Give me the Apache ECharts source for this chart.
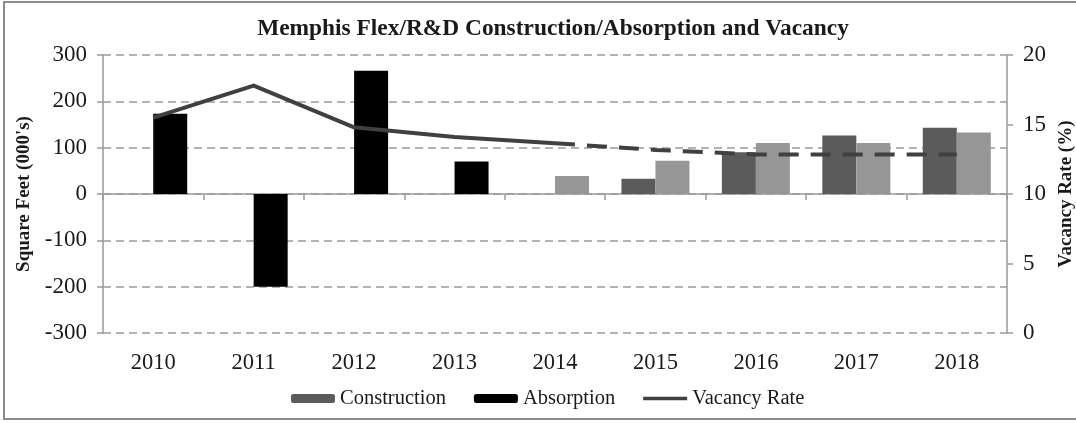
<!DOCTYPE html>
<html>
<head>
<meta charset="utf-8">
<script src="https://cdn.jsdelivr.net/npm/echarts@6/dist/echarts.min.js"></script>
<style>
    html, body { margin: 0; padding: 0; background: #fff; }
    #chart { width: 1076px; height: 423px; }
</style>
</head>
<body>
<div id="chart"></div>
<script>
// data
var years = ['2010', '2011', '2012', '2013', '2014', '2015', '2016', '2017', '2018']
var construction = [null, null, null, null, null, 33, 90, 126, 143]
var absorption = [173, -200, 266, 70, 39, 72, 110, 110, 133]
var vacancyActual = [15.5, 17.8, 14.8, 14.1, 13.65, null, null, null, null]
var vacancyForecast = [null, null, null, null, 13.65, 13.17, 12.85, 12.85, 12.85]
var firstForecast = 4 // absorption bars from 2014 on are drawn light grey

var serif = 'Liberation Serif'
var gridColor = '#9a9a9a'
var axisColor = '#9a9a9a'
// thick line for the legend key, padded top and bottom so it stays thin
var lineIcon = 'path://M0,0L0.01,0Z M0,3L58,3L58,7.5L0,7.5Z M0,10.5L0.01,10.5Z'

var absorptionData = absorption.map(function (v, i) {
    if (i >= firstForecast) {
        return { value: v, itemStyle: { color: '#969696' } }
    }
    return v
})

var myecharts = echarts.init(document.getElementById('chart'))
var option = {
    animation: false,
    textStyle: { fontFamily: serif, color: '#1a1a1a' },
    graphic: [
        {
            type: 'rect',
            shape: { x: 4, y: 2, width: 1090, height: 417 },
            style: { fill: 'none', stroke: '#8c8c8c', lineWidth: 2 },
            silent: true
        },
        {
            type: 'text',
            x: 553,
            y: 29,
            style: {
                text: 'Memphis Flex/R&D Construction/Absorption and Vacancy',
                font: 'bold 23.4px "Liberation Serif"',
                fill: '#1a1a1a',
                textAlign: 'center',
                textVerticalAlign: 'middle'
            }
        }
    ],
    grid: { left: 103, right: 69, top: 55, bottom: 90, outerBoundsMode: 'none', containLabel: false },
    legend: {
        left: 286,
        top: 383,
        itemWidth: 44,
        itemHeight: 9,
        itemGap: 28,
        data: [
            'Construction',
            'Absorption',
            { name: 'Vacancy Rate', icon: lineIcon, itemStyle: { color: '#404040' } }
        ],
        textStyle: { fontFamily: serif, fontSize: 20.5, color: '#1a1a1a' }
    },
    xAxis: [
        {
            // the line through zero with the ticks between years
            type: 'category',
            data: years,
            axisLine: { onZero: true, onZeroAxisIndex: 0, lineStyle: { color: axisColor, width: 1.5 } },
            axisTick: { show: true, interval: 0, length: 6, lineStyle: { color: axisColor, width: 1.5 } },
            axisLabel: { show: false },
            splitLine: { show: false }
        },
        {
            // year labels along the bottom
            type: 'category',
            data: years,
            position: 'bottom',
            axisLine: { show: false, onZero: false },
            axisTick: { show: false },
            axisLabel: { margin: 19, fontFamily: serif, fontSize: 22.5, color: '#1a1a1a' },
            splitLine: { show: false }
        }
    ],
    yAxis: [
        {
            type: 'value',
            min: -300,
            max: 300,
            interval: 100,
            name: "Square Feet (000's)",
            nameLocation: 'middle',
            nameGap: 61,
            nameTextStyle: { fontFamily: serif, fontSize: 19, fontWeight: 'bold', color: '#1a1a1a' },
            axisLine: { show: true, lineStyle: { color: axisColor, width: 1.5 } },
            axisTick: { show: true, length: 6, lineStyle: { color: axisColor, width: 1.5 } },
            axisLabel: { margin: 16, fontFamily: serif, fontSize: 23, color: '#1a1a1a' },
            splitLine: { show: true, lineStyle: { color: gridColor, width: 1.5, type: [8, 5] } }
        },
        {
            type: 'value',
            min: 0,
            max: 20,
            interval: 5,
            position: 'right',
            name: 'Vacancy Rate (%)',
            nameLocation: 'middle',
            nameGap: 47,
            nameTextStyle: { fontFamily: serif, fontSize: 19, fontWeight: 'bold', color: '#1a1a1a' },
            axisLine: { show: true, lineStyle: { color: axisColor, width: 1.5 } },
            axisTick: { show: true, length: 6, lineStyle: { color: axisColor, width: 1.5 } },
            axisLabel: { margin: 16, fontFamily: serif, fontSize: 23, color: '#1a1a1a' },
            splitLine: { show: false }
        }
    ],
    series: [
        {
            name: 'Construction',
            type: 'bar',
            xAxisIndex: 0,
            yAxisIndex: 0,
            barWidth: 34,
            barGap: '0%',
            itemStyle: { color: '#5b5b5b' },
            data: construction
        },
        {
            name: 'Absorption',
            type: 'bar',
            xAxisIndex: 0,
            yAxisIndex: 0,
            barWidth: 34,
            barGap: '0%',
            itemStyle: { color: '#000000' },
            data: absorptionData
        },
        {
            name: 'Vacancy Rate',
            type: 'line',
            xAxisIndex: 0,
            yAxisIndex: 1,
            symbol: 'none',
            z: 5,
            lineStyle: { color: '#404040', width: 4, join: 'round' },
            itemStyle: { color: '#404040' },
            data: vacancyActual
        },
        {
            name: 'Vacancy Rate',
            type: 'line',
            xAxisIndex: 0,
            yAxisIndex: 1,
            symbol: 'none',
            z: 5,
            lineStyle: { color: '#404040', width: 4, type: [20, 12] },
            itemStyle: { color: '#404040' },
            data: vacancyForecast
        }
    ]
}
myecharts.setOption(option)
</script>
</body>
</html>
